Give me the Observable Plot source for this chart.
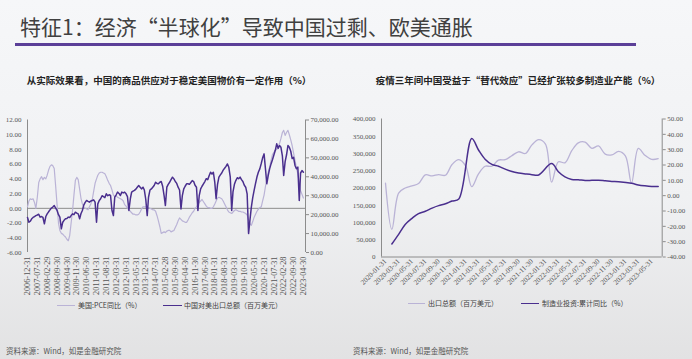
<!DOCTYPE html>
<html><head><meta charset="utf-8">
<script src="https://cdn.jsdelivr.net/npm/d3@7"></script>
<script src="https://cdn.jsdelivr.net/npm/@observablehq/plot@0.6"></script>
<style>
html,body{margin:0;padding:0;}
body{width:692px;height:359px;overflow:hidden;position:relative;
 background:linear-gradient(180deg,#f6f7f9 0%,#f0f1f3 55%,#e2e2e3 100%);
 font-family:"Noto Sans CJK SC",sans-serif;}
.abs{position:absolute;white-space:nowrap;}
#title{left:20px;top:15px;font-size:21px;line-height:22px;color:#404040;}
#rule{left:15px;top:43px;width:621px;height:2.5px;background:#5b3f98;}
.ctitle{top:74px;width:346px;text-align:center;font-size:9.5px;line-height:12px;font-weight:bold;color:#222;}
.lg{font-size:7px;line-height:9px;color:#404040;}
.sw{height:1.6px;}
.src{font-size:7.5px;line-height:9px;color:#555;top:346px;}
.chart{position:absolute;top:110px;}
</style></head><body>
<div id="title" class="abs">特征1：经济“半球化”导致中国过剩、欧美通胀</div>
<div id="rule" class="abs"></div>
<div class="abs ctitle" style="left:-4px">从实际效果看，中国的商品供应对于稳定美国物价有一定作用（%）</div>
<div class="abs ctitle" style="left:345px">疫情三年间中国受益于“替代效应”已经扩张较多制造业产能（%）</div>
<div id="c1" class="chart" style="left:0px"></div>
<div id="c2" class="chart" style="left:346px"></div>
<div class="abs sw" style="left:57px;top:304.5px;width:18px;background:#bab3d6"></div>
<div class="abs lg" style="left:78px;top:300.5px">美国:PCE同比（%）</div>
<div class="abs sw" style="left:163px;top:304.5px;width:19px;background:#4a2f8e"></div>
<div class="abs lg" style="left:184px;top:300.5px">中国对美出口总额（百万美元）</div>
<div class="abs sw" style="left:408px;top:302.5px;width:17px;background:#bab3d6"></div>
<div class="abs lg" style="left:428px;top:298.5px">出口总额（百万美元）</div>
<div class="abs sw" style="left:521px;top:302.5px;width:18px;background:#4a2f8e"></div>
<div class="abs lg" style="left:542px;top:298.5px">制造业投资:累计同比（%）</div>
<div class="abs src" style="left:6px">资料来源：Wind，如是金融研究院</div>
<div class="abs src" style="left:353px">资料来源：Wind，如是金融研究院</div>
<script>
// ---------- Left chart data (monthly, 2006-12 .. 2023-04) ----------
const leftStartYear = 2006, leftStartMonth = 11; // December 2006
const pceYoY = [
 0.2,1.0,1.3,1.2,1.3,0.8,0.0,1.5,3.5,4.0,
 4.3,3.9,4.2,4.0,4.5,5.2,5.7,5.9,5.8,5.4,
 3.0,0.5,-2.0,-3.0,-3.4,-3.5,-3.7,-3.9,-4.2,-4.4,
 -3.7,-2.0,-0.3,1.8,3.8,4.2,3.9,2.6,1.4,0.6,
 0.2,0.0,-0.1,-0.2,0.2,0.6,1.2,2.3,3.4,4.0,
 4.5,4.8,4.9,4.9,4.8,4.7,4.3,3.8,3.4,3.1,
 2.5,1.8,1.6,1.7,1.5,1.4,1.3,1.2,1.0,0.5,
 0.3,0.0,-0.2,-0.4,-0.6,-0.8,-0.8,-0.9,-0.9,-0.8,
 -0.5,-0.1,0.2,0.2,0.2,0.1,0.1,0.0,-0.1,-0.2,
 -0.2,-0.4,-1.0,-1.7,-2.5,-3.4,-3.3,-3.2,-3.3,-3.1,
 -3.0,-3.0,-3.2,-3.1,-3.0,-2.6,-2.2,-1.7,-1.3,-1.5,
 -1.7,-1.8,-1.9,-1.9,-1.6,-1.2,-0.9,-0.6,-0.4,0.0,
 0.2,0.5,0.8,1.0,1.2,0.9,0.6,0.3,0.1,0.1,
 0.0,0.0,0.2,0.6,1.0,1.4,1.5,1.4,1.3,1.0,
 0.6,0.2,-0.2,-0.5,-0.6,-0.7,-0.5,-0.3,-0.2,-0.3,
 -0.4,-0.4,-0.5,-0.5,-0.6,-0.7,-0.9,-1.6,-2.1,-2.3,
 -1.8,-1.2,-0.8,-0.4,-0.1,0.1,0.2,1.0,1.8,3.0,
 4.0,4.9,5.6,6.5,7.3,7.6,7.9,8.0,8.4,8.8,
 9.5,10.3,10.6,9.9,10.3,10.6,10.0,9.3,8.5,7.5,
 6.5,5.5,4.7,3.5,2.4,1.9,1.4];
const exportsToUS = [ // 百万美元
 18500,16000,16500,17800,18500,19000,19500,19800,20200,18700,
 19000,18500,15200,19000,20400,21500,22500,23500,24000,24800,
 23500,22200,20000,18700,12500,16000,17000,17800,18000,18700,
 18500,19500,20400,20000,21300,20800,20400,17800,20500,22200,
 25000,26500,27500,27000,26600,27200,27500,27800,26600,16000,
 25700,27500,28400,30000,29500,29000,31000,30000,30500,30100,
 22200,19500,29200,30500,31900,31200,30100,31900,31500,31900,
 31000,29500,22200,28400,31900,32400,32800,33500,34500,35400,
 34500,33600,34500,33000,28000,19500,29200,33000,33600,34500,
 35400,37100,36500,36300,37100,37500,35000,30000,24800,34500,
 36000,37100,38500,39800,38900,37500,36500,34500,33000,23000,
 30000,33600,35000,36300,36300,36000,37000,38000,37500,35500,
 34500,22200,30000,33600,35000,36300,37500,39000,38500,40500,
 42400,41500,42400,37000,28400,36000,39800,41000,42000,43500,
 44500,45500,46800,45000,40000,22200,32000,36000,38000,39500,
 39000,39800,38500,37500,35500,34500,31000,10000,17000,24000,
 29000,33000,36500,40000,42500,44200,47000,50000,52100,44000,
 36300,40700,44200,46800,49000,51500,54000,57400,55000,56500,
 55600,51000,40700,48000,51500,56500,55600,53500,49600,50300,
 46000,44200,45100,27500,42000,43300,42400];
const leftTickLabels = ["2006-12-31","2007-07-31","2008-02-29","2008-09-30","2009-04-30","2009-11-30","2010-06-30","2011-01-31","2011-08-31","2012-03-31","2012-10-31","2013-05-31","2013-12-31","2014-07-31","2015-02-28","2015-09-30","2016-04-30","2016-11-30","2017-06-30","2018-01-31","2018-08-31","2019-03-31","2019-10-31","2020-05-31","2020-12-31","2021-07-31","2022-02-28","2022-09-30","2023-04-30"];
const leftYTicks = [-6,-4,-2,0,2,4,6,8,10,12];
const leftRightTicks = [0,10000,20000,30000,40000,50000,60000,70000];

// ---------- Right chart data (monthly, 2020-01 .. 2023-06) ----------
const rightStartYear = 2020, rightStartMonth = 0;
const chinaExports = [ // 百万美元
 214000,80000,185000,200000,206000,213000,238000,235000,239000,237000,268000,282000,
 264000,204000,241000,263000,263000,281000,282000,294000,305000,300000,325000,340000,
 327000,217000,276000,273000,308000,331000,333000,315000,322000,298000,296000,306000,
 293000,214000,315000,295000,283000,285000];
const mfgInvYoY = [
 null,-31.5,-25.2,-18.8,-14.8,-11.7,-10.2,-8.1,-6.5,-5.3,-3.5,-2.2,
 null,37.3,29.8,23.8,20.4,19.2,17.3,15.7,14.8,14.2,13.7,13.5,
 null,20.9,15.6,12.2,10.6,10.4,9.9,10.0,10.1,9.7,9.3,9.1,
 null,8.1,7.0,6.4,6.0,6.0];
const rightTickLabels = ["2020-01-31","2020-03-31","2020-05-31","2020-07-31","2020-09-30","2020-11-30","2021-01-31","2021-03-31","2021-05-31","2021-07-31","2021-09-30","2021-11-30","2022-01-31","2022-03-31","2022-05-31","2022-07-31","2022-09-30","2022-11-30","2023-01-31","2023-03-31","2023-05-31"];
const rightYTicks = [0,50000,100000,150000,200000,250000,300000,350000,400000];
const rightRightTicks = [-40,-30,-20,-10,0,10,20,30,40,50];

// ---------- helpers ----------
const LIGHT = "#bab3d6", DARK = "#4a2f8e", AXIS = "#8c8c8c", LBL = "#555";
const monthEnd = (y, m, i) => new Date(Date.UTC(y, m + i + 1, 0));
const parse = d3.utcParse("%Y-%m-%d");
const fmtDate = d3.utcFormat("%Y-%m-%d");
const DAY = 864e5, MON = 30.44 * DAY;
const serif = "'Liberation Serif','Times New Roman',serif";

// ---------- Left chart ----------
{
  const dates = pceYoY.map((_, i) => monthEnd(leftStartYear, leftStartMonth, i));
  const toL = v => -6 + v * 18 / 70000;
  const fromL = v => (v + 6) * 70000 / 18;
  const pce = pceYoY.map((v, i) => ({date: dates[i], v}));
  const exp = exportsToUS.map((v, i) => ({date: dates[i], v: toL(v)}));
  const x0 = dates[0], x1 = new Date(+dates[dates.length - 1] + 1.5 * MON);
  const chart = Plot.plot({
    width: 346, height: 192,
    marginLeft: 27, marginRight: 41, marginTop: 9.5, marginBottom: 50,
    style: {background: "transparent", fontFamily: serif, fontSize: "7px", overflow: "visible"},
    x: {type: "utc", domain: [x0, x1]},
    y: {domain: [-6, 12]},
    marks: [
      Plot.ruleX([x0], {stroke: AXIS, strokeWidth: 1}),
      Plot.ruleX([x1], {stroke: AXIS, strokeWidth: 1}),
      Plot.ruleY([0], {stroke: AXIS, strokeWidth: 1}),
      Plot.line(pce, {x: "date", y: "v", stroke: LIGHT, strokeWidth: 1.2}),
      Plot.line(exp, {x: "date", y: "v", stroke: DARK, strokeWidth: 1.5}),
      Plot.axisY(leftYTicks, {anchor: "left", label: null, tickSize: 0, tickPadding: 6, tickFormat: d => d.toFixed(2), fontSize: 7, fill: LBL, fontFamily: serif}),
      Plot.axisY(leftRightTicks.map(toL), {anchor: "right", label: null, tickSize: 3, tickPadding: 2, stroke: AXIS, tickFormat: d => d3.format(",.2f")(Math.round(fromL(d))), fontSize: 7, fill: LBL, fontFamily: serif}),
      Plot.axisX(leftTickLabels.map(parse), {anchor: "bottom", label: null, tickSize: 0, tickPadding: 4, tickRotate: -90, tickFormat: fmtDate, fontSize: 8.3, fill: LBL, fontFamily: serif})
    ]
  });
  document.getElementById("c1").append(chart);
}

// ---------- Right chart ----------
{
  const dates = chinaExports.map((_, i) => monthEnd(rightStartYear, rightStartMonth, i));
  const toL = p => (p + 40) / 90 * 400000;
  const fromL = v => v / 400000 * 90 - 40;
  const exp = chinaExports.map((v, i) => ({date: dates[i], v}));
  const inv = mfgInvYoY.map((p, i) => ({date: dates[i], p})).filter(d => d.p != null).map(d => ({date: d.date, v: toL(d.p)}));
  const x0 = new Date(+dates[0] - 0.6 * MON), x1 = new Date(+dates[dates.length - 1] + 0.6 * MON);
  const chart = Plot.plot({
    width: 346, height: 190,
    marginLeft: 35, marginRight: 30.3, marginTop: 8.5, marginBottom: 43.5,
    style: {background: "transparent", fontFamily: serif, fontSize: "7px", overflow: "visible"},
    x: {type: "utc", domain: [x0, x1]},
    y: {domain: [0, 400000]},
    marks: [
      Plot.ruleX([x0], {stroke: AXIS, strokeWidth: 1}),
      Plot.ruleX([x1], {stroke: AXIS, strokeWidth: 1}),
      Plot.ruleY([0], {stroke: AXIS, strokeWidth: 1}),
      Plot.line(exp, {x: "date", y: "v", stroke: LIGHT, strokeWidth: 1.3, curve: "catmull-rom"}),
      Plot.line(inv, {x: "date", y: "v", stroke: DARK, strokeWidth: 1.5, curve: "catmull-rom"}),
      Plot.axisY(rightYTicks, {anchor: "left", label: null, tickSize: 0, tickPadding: 6, tickFormat: d => d3.format(",")(d), fontSize: 7, fill: LBL, fontFamily: serif}),
      Plot.axisY(rightRightTicks.map(toL), {anchor: "right", label: null, tickSize: 3, tickPadding: 2, stroke: AXIS, tickFormat: d => fromL(d).toFixed(2), fontSize: 7, fill: LBL, fontFamily: serif}),
      Plot.axisX(rightTickLabels.map(parse), {anchor: "bottom", label: null, tickSize: 0, tickPadding: 3, tickRotate: -45, tickFormat: fmtDate, fontSize: 7.2, fill: LBL, fontFamily: serif})
    ]
  });
  document.getElementById("c2").append(chart);
}
</script>
</body></html>
